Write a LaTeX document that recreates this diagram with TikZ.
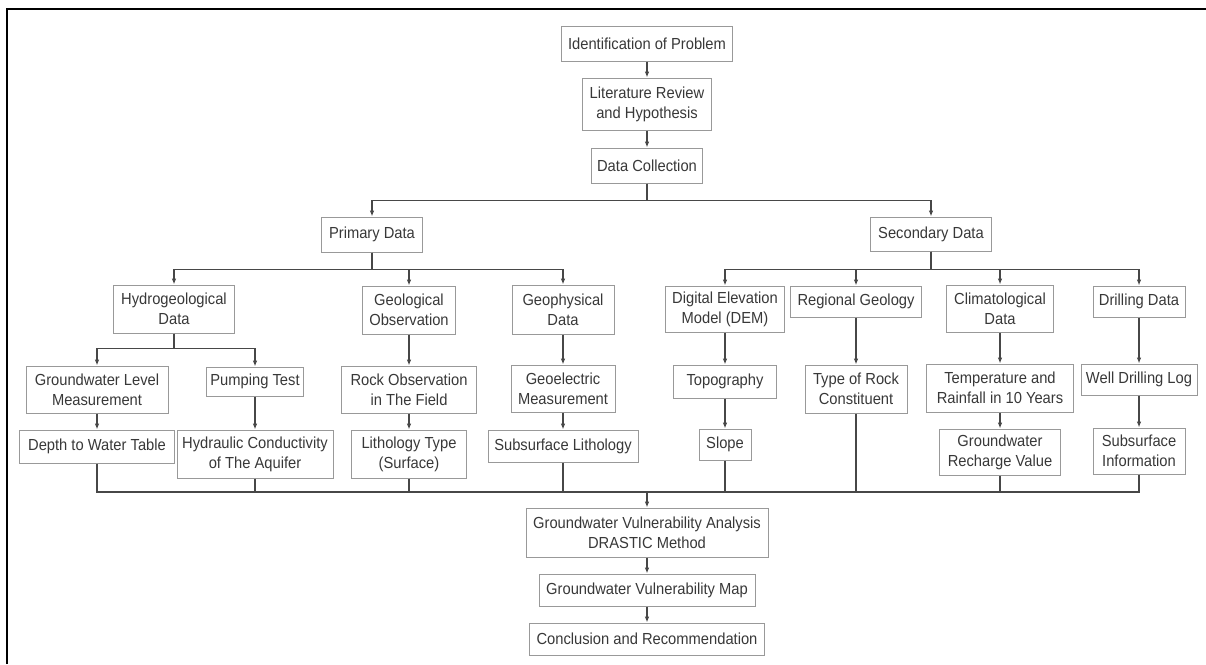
\documentclass[tikz,border=0pt]{standalone}
\usepackage{fontspec}
\setmainfont[FakeStretch=0.92]{Liberation Sans}
\usetikzlibrary{arrows.meta}

\begin{document}
\begin{tikzpicture}
	[
	x=0.75pt, y=-0.75pt, font=\fontsize{12pt}{15pt}\selectfont, >={Latex[length=4.5pt,width=3.5pt]},
	%Voreinstellungen fuer Kaesten und Linien
	box/.style={draw=black!40, line width=0.75pt, align=center, inner sep=0pt, text=black!78},
	sz/.style 2 args={minimum width=#1*0.75pt, minimum height=#2*0.75pt},
	linie/.style={draw=black!72, line width=0.9pt}
	]
	
	%Bildgroesse
	\useasboundingbox (0,0) rectangle (1206,664);
	
	%Rahmen
	\draw[line width=1.6pt] (7,664) -- (7,9) -- (1206,9);
	
	%Hauptstrang oben
	\node[box, sz={171}{35}] (ident) at (647,43.5) {Identification of Problem};
	\node[box, sz={129}{52}] (lit) at (647,104) {Literature Review\\and Hypothesis};
	\node[box, sz={111}{35}] (dc) at (647,165.5) {Data Collection};
	
	%Primaer- und Sekundaerdaten
	\node[box, sz={101}{35}] (pd) at (372,234.5) {Primary Data};
	\node[box, sz={121}{34}] (sd) at (931,234) {Secondary Data};
	
	%Ebene 3
	\node[box, sz={121}{48}] (hgd) at (174,309) {Hydrogeological\\Data};
	\node[box, sz={93}{48}] (gob) at (409,310) {Geological\\Observation};
	\node[box, sz={102}{49}] (gpd) at (563,309.5) {Geophysical\\Data};
	\node[box, sz={119}{46}] (dem) at (725,309) {Digital Elevation\\Model (DEM)};
	\node[box, sz={131}{31}] (rg) at (856,301.5) {Regional Geology};
	\node[box, sz={107}{47}] (cd) at (1000,308.5) {Climatological\\Data};
	\node[box, sz={92}{31}] (dd) at (1139,301.5) {Drilling Data};
	
	%Ebene 4
	\node[box, sz={142}{47}] (gwl) at (97,389.5) {Groundwater Level\\Measurement};
	\node[box, sz={97}{29}] (pt) at (255,381.5) {Pumping Test};
	\node[box, sz={135}{47}] (rof) at (409,389.5) {Rock Observation\\in The Field};
	\node[box, sz={104}{47}] (gem) at (563,388.5) {Geoelectric\\Measurement};
	\node[box, sz={103}{33}] (topo) at (725,381.5) {Topography};
	\node[box, sz={102}{48}] (trc) at (856,389) {Type of Rock\\Constituent};
	\node[box, sz={147}{48}] (tr) at (1000,388) {Temperature and\\Rainfall in 10 Years};
	\node[box, sz={116}{31}] (wdl) at (1139,379.5) {Well Drilling Log};
	
	%Ebene 5
	\node[box, sz={155}{33}] (dwt) at (97,446.5) {Depth to Water Table};
	\node[box, sz={156}{48}] (hc) at (255,454) {Hydraulic Conductivity\\of The Aquifer};
	\node[box, sz={115}{48}] (lt) at (409,454) {Lithology Type\\(Surface)};
	\node[box, sz={150}{32}] (sl) at (563,446) {Subsurface Lithology};
	\node[box, sz={52}{31}] (slope) at (725,444.5) {Slope};
	\node[box, sz={121}{46}] (grv) at (1000,452) {Groundwater\\Recharge Value};
	\node[box, sz={92}{46}] (sinfo) at (1139,451) {Subsurface\\Information};
	
	%Hauptstrang unten
	\coordinate (knoten) at (647,492);
	\node[box, sz={242}{49}] (gva) at (647,532.5) {Groundwater Vulnerability Analysis\\DRASTIC Method};
	\node[box, sz={216}{32}] (gvm) at (647,590) {Groundwater Vulnerability Map};
	\node[box, sz={235}{32}] (cr) at (647,639) {Conclusion and Recommendation};
	
	%Verzweigungen
	\draw[linie, ->] (dc.south) -- ++(0,17) -| (pd);
	\draw[linie, ->] (dc.south) -- ++(0,17) -| (sd);
	\foreach \z in {hgd,gob,gpd}
		\draw[linie, ->] (pd.south) -- ++(0,17) -| (\z);
	\foreach \z in {dem,rg,cd,dd}
		\draw[linie, ->] (sd.south) -- ++(0,18) -| (\z);
	\foreach \z in {gwl,pt}
		\draw[linie, ->] (hgd.south) -- ++(0,15) -| (\z);
	
	%Senkrechte Pfeile
	\foreach \a/\b in {ident/lit, lit/dc, gob/rof, gpd/gem, dem/topo, rg/trc, cd/tr, dd/wdl,
		gwl/dwt, pt/hc, rof/lt, gem/sl, topo/slope, tr/grv, wdl/sinfo, gva/gvm, gvm/cr}
		\draw[linie, ->] (\a) -- (\b);
	
	%Sammelleitung
	\foreach \z in {dwt,hc,lt,sl,slope,trc,grv,sinfo}
		\draw[linie] (\z.south) |- (knoten);
	\draw[linie, ->] (knoten) -- (gva);
	
\end{tikzpicture}
\end{document}
